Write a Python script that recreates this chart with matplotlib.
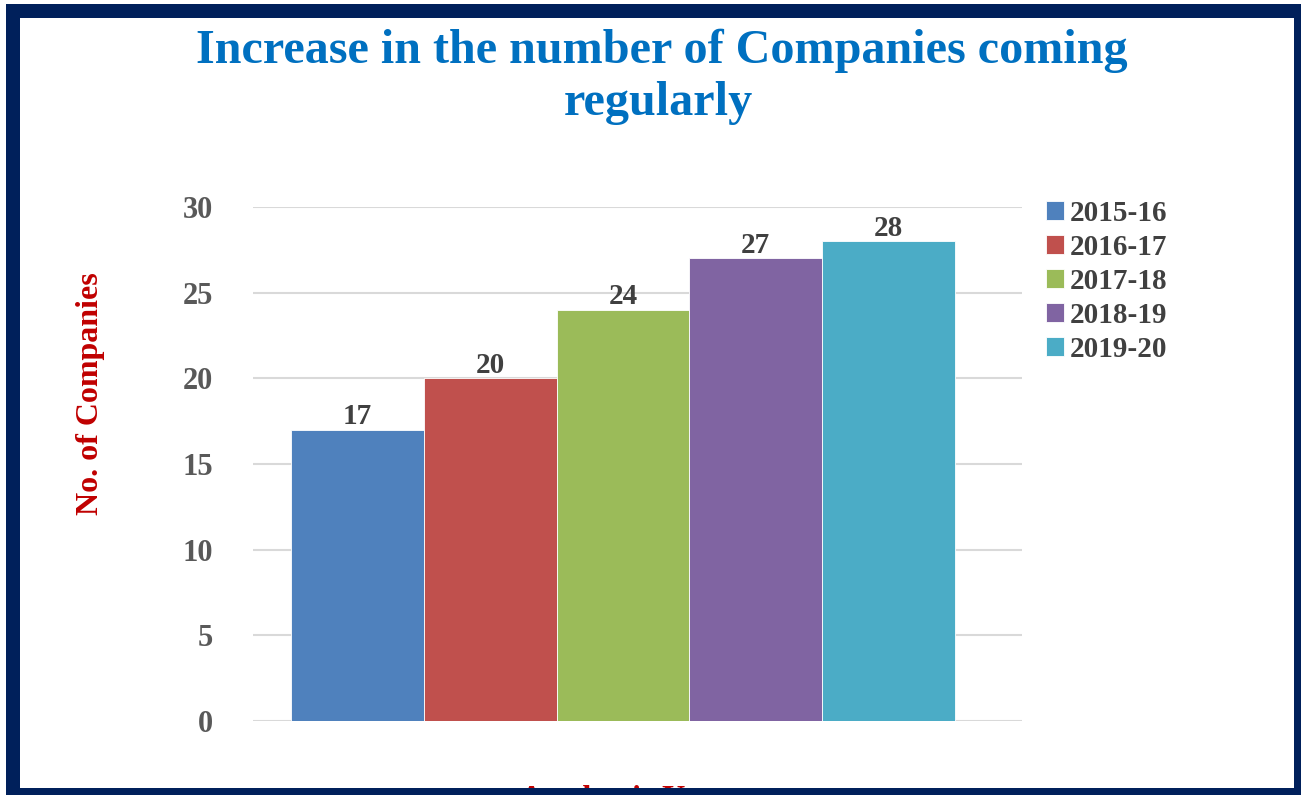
import matplotlib
matplotlib.use("Agg")
import matplotlib.pyplot as plt
from matplotlib.patches import Rectangle

# Data
years = ["2015-16", "2016-17", "2017-18", "2018-19", "2019-20"]
companies = [17, 20, 24, 27, 28]
bar_colors = ["#4F81BD", "#C0504D", "#9BBB59", "#8064A2", "#4BACC6"]
y_ticks = [0, 5, 10, 15, 20, 25, 30]

W, H = 1301, 795
plt.rcParams["font.family"] = ["Liberation Serif", "DejaVu Serif"]
plt.rcParams["font.weight"] = "bold"

fig = plt.figure(figsize=(W / 100, H / 100), dpi=100)
fig.patch.set_facecolor("white")

# Plot area in pixel terms
left_px, right_px, top_px, bottom_px = 253, 1022, 207, 721
ax = fig.add_axes([left_px / W, 1 - bottom_px / H,
                   (right_px - left_px) / W, (bottom_px - top_px) / H])

x = list(range(len(years)))
bars = ax.bar(x, companies, width=1.0, color=bar_colors, label=years,
              edgecolor="white", linewidth=0.6, zorder=3)

for xi, v in zip(x, companies):
    ax.annotate(str(v), (xi, v), xytext=(0, -0.5), textcoords="offset points",
                ha="center", va="bottom", fontsize=21, fontweight="bold",
                color="#404040", zorder=4)

ax.set_xlim(-0.786, 5.005)
ax.set_ylim(0, 30)
ax.set_yticks(y_ticks)
ax.set_xticks([])
ax.grid(axis="y", color="#D9D9D9", linewidth=1.5, zorder=0)
ax.tick_params(axis="y", length=0, pad=29, labelsize=22, labelcolor="#595959")
for lbl in ax.get_yticklabels():
    lbl.set_fontweight("bold")
for s in ax.spines.values():
    s.set_visible(False)

# Y axis title
fig.text(91 / W, 1 - 394 / H, "No. of Companies", rotation=90,
         ha="center", va="center", fontsize=23, fontweight="bold",
         color="#C00000")

# Chart title
fig.text(662 / W, 1 - 51 / H, "Increase in the number of Companies coming",
         ha="center", va="center", fontsize=34.7, fontweight="bold",
         color="#0070C0")
fig.text(658 / W, 1 - 103 / H, "regularly",
         ha="center", va="center", fontsize=34.7, fontweight="bold",
         color="#0070C0")

# X axis title, sitting right against the lower frame edge
fig.text(623 / W, 1 - 785 / H, "Academic Year", ha="center", va="top",
         fontsize=23, fontweight="bold", color="#C00000", zorder=1)

# Legend
leg = ax.legend(handles=bars, labels=years, loc="upper left",
                bbox_to_anchor=(1046 / W, 1 - 200 / H),
                bbox_transform=fig.transFigure, frameon=False,
                fontsize=21, handlelength=0.6, handleheight=0.6,
                handletextpad=0.2, labelspacing=0.24, borderpad=0,
                borderaxespad=0)
for t in leg.get_texts():
    t.set_color("#404040")
    t.set_fontweight("bold")

# Navy frame around the whole graphic
lw_px = 14
frame = Rectangle((13 / W, 0 / H), (1301 - 13) / W, (795 - 11) / H,
                  transform=fig.transFigure, fill=False,
                  edgecolor="#00205B", linewidth=lw_px * 0.72, zorder=10,
                  clip_on=False)
fig.patches.append(frame)

fig.savefig("out.png", dpi=100, facecolor="white")
